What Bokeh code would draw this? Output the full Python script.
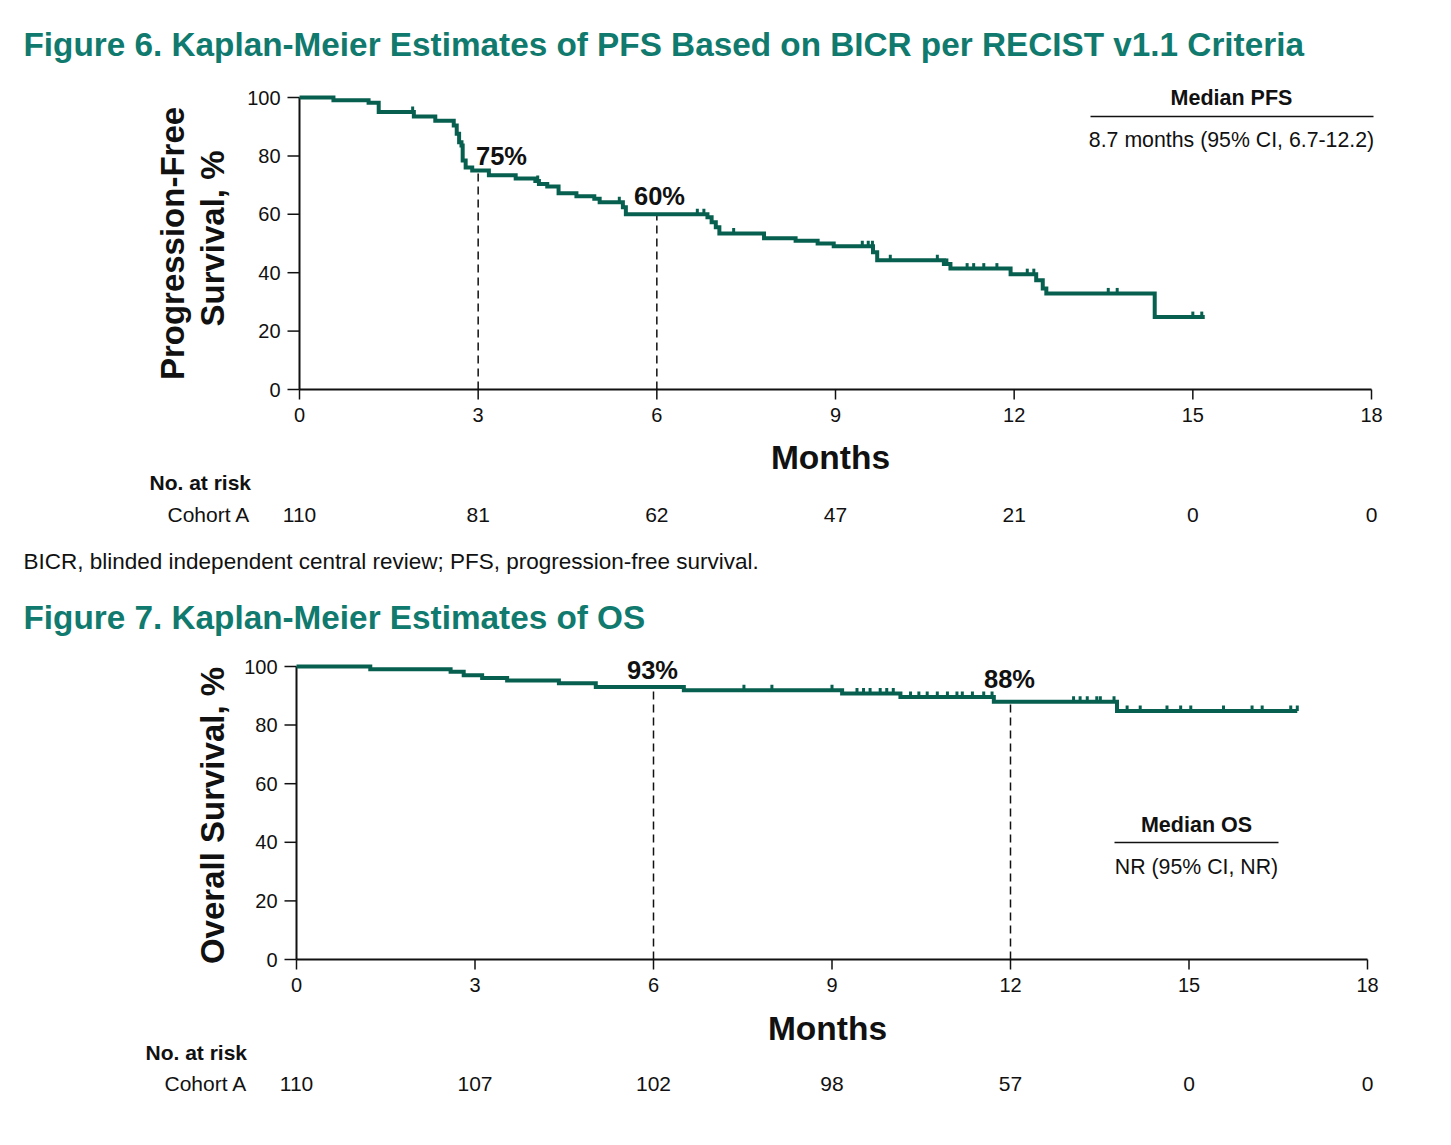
import numpy as np
from bokeh.plotting import figure
from bokeh.models import Range1d
from bokeh.core.properties import value
from bokeh.layouts import column
from bokeh.embed import file_html
from bokeh.resources import INLINE

FONT = "Liberation Sans"
TEAL = "#0F7A6D"
CURVE = "#07604F"
INK = "#111111"

month_ticks = [0, 3, 6, 9, 12, 15, 18]
pct_ticks = [0, 20, 40, 60, 80, 100]

# Progression-free survival (Kaplan-Meier steps, % event-free)
pfs_time = [0, 0.57, 1.16, 1.33, 1.92, 2.28, 2.59, 2.64, 2.68, 2.72, 2.74, 2.79,
            2.90, 3.18, 3.63, 3.96, 4.02, 4.16, 4.35, 4.65, 4.95, 5.04, 5.43, 5.48,
            6.85, 6.92, 6.99, 7.05, 7.80, 8.33, 8.70, 8.97, 9.63, 9.70, 10.82, 10.93,
            11.94, 12.37, 12.48, 12.54, 14.36]
pfs_surv = [100, 99.1, 98.2, 95.0, 93.5, 92.0, 90.4, 87.6, 84.7, 83.6, 78.4, 76.0,
            75.0, 73.4, 72.3, 71.4, 70.4, 69.5, 67.2, 66.2, 65.3, 64.1, 62.4, 60.0,
            59.0, 57.3, 55.6, 53.4, 51.8, 50.9, 50.0, 49.1, 47.0, 44.3, 43.0, 41.4,
            39.5, 37.4, 34.6, 32.9, 24.8]
pfs_end = 15.2
pfs_censor = [1.90, 4.00, 5.37, 6.68, 6.79, 7.29, 9.45, 9.55, 9.62, 9.92, 10.71,
              10.87, 11.21, 11.32, 11.49, 11.71, 12.22, 12.33, 13.58, 13.73, 15.00,
              15.15]
pfs_at_risk = [110, 81, 62, 47, 21, 0, 0]
pfs_landmark_month = [3, 6]
pfs_landmark_pct = [75, 60]

# Overall survival
os_time = [0, 1.24, 2.59, 2.81, 3.12, 3.54, 4.41, 5.03, 6.51, 9.17, 10.15, 11.72, 13.79]
os_surv = [100, 99.1, 98.2, 97.0, 96.1, 95.2, 94.3, 93.0, 91.9, 90.8, 89.6, 88.0, 84.8]
os_end = 16.82
os_censor = [7.52, 7.99, 9.00, 9.42, 9.53, 9.64, 9.81, 9.92, 10.03, 10.32, 10.46,
             10.60, 10.77, 10.94, 11.10, 11.19, 11.36, 11.55, 11.69, 13.06, 13.17,
             13.29, 13.45, 13.51, 13.74, 13.96, 14.18, 14.63, 14.86, 15.03, 15.58,
             16.06, 16.23, 16.71, 16.82]
os_at_risk = [110, 107, 102, 98, 57, 0, 0]
os_landmark_month = [6, 12]
os_landmark_pct = [93, 88]

PAGE_W = 1451


class Panel:
    """A full-bleed figure whose data space is laid out so that month 0 / 0 %
    sit at a chosen pixel origin; margins hold the axes, titles and tables."""

    def __init__(self, height, page_top, x0, x18, y0, y100):
        self.page_top = page_top
        self.ppm = (x18 - x0) / 18.0          # pixels per month
        self.ppu = (y0 - y100) / 100.0        # pixels per percent
        self.x0 = x0
        self.y0 = y0                          # page pixel of 0 %
        yb = page_top + height
        p = figure(width=PAGE_W, height=height, output_backend="svg",
                   toolbar_location=None,
                   x_range=Range1d(-x0 / self.ppm, (PAGE_W - x0) / self.ppm),
                   y_range=Range1d((y0 - yb) / self.ppu, (y0 - page_top) / self.ppu),
                   x_axis_location=None, y_axis_location=None,
                   min_border=0, min_border_left=0, min_border_right=0,
                   min_border_top=0, min_border_bottom=0)
        p.outline_line_color = None
        p.grid.visible = False
        p.background_fill_color = "white"
        p.border_fill_color = "white"
        self.p = p

    def dx(self, px):
        return px / self.ppm

    def dy(self, px):
        return px / self.ppu

    def X(self, px):
        return (px - self.x0) / self.ppm

    def Y(self, py):
        return (self.y0 - py) / self.ppu

    def text(self, xs, ys, texts, size, bold=False, color=INK, align="left",
             angle=0.0):
        self.p.text(x=xs, y=ys, text=texts, text_font=value(FONT),
                    text_font_size=value(f"{size}px"),
                    text_font_style=value("bold" if bold else "normal"),
                    text_color=color, text_align=value(align),
                    text_baseline=value("middle"), angle=angle)

    def axes(self):
        p = self.p
        # axis lines
        p.segment(x0=[0, 0], y0=[0, 0], x1=[month_ticks[-1], 0],
                  y1=[0, pct_ticks[-1]], line_color=INK, line_width=2)
        # month ticks + labels
        mt = np.asarray(month_ticks, dtype=float)
        p.segment(x0=mt, y0=np.zeros_like(mt), x1=mt,
                  y1=np.full_like(mt, -self.dy(10)), line_color=INK, line_width=1.5)
        self.text(list(mt), [-self.dy(25)] * len(mt), [str(m) for m in month_ticks],
                  20, align="center")
        # percent ticks + labels
        yt = np.asarray(pct_ticks, dtype=float)
        p.segment(x0=np.zeros_like(yt), y0=yt, x1=np.full_like(yt, -self.dx(12)),
                  y1=yt, line_color=INK, line_width=1.5)
        self.text([-self.dx(19)] * len(yt), list(yt), [str(v) for v in pct_ticks],
                  20, align="right")

    def km(self, time, surv, end, censor, lm_month, lm_pct):
        p = self.p
        # landmark guides
        p.segment(x0=lm_month, y0=[0] * len(lm_month), x1=lm_month, y1=lm_pct,
                  line_color=INK, line_width=1.5, line_dash="8 5")
        # survival curve
        xs = list(time) + [end]
        ys = list(surv) + [surv[-1]]
        p.step(xs, ys, mode="after", line_color=CURVE, line_width=4,
               line_join="miter")
        # censoring marks
        t = np.asarray(time)
        s = np.asarray(surv)
        c = np.asarray(censor)
        sc = s[np.searchsorted(t, c, side="right") - 1]
        p.segment(x0=c, y0=sc, x1=c, y1=sc + self.dy(5.5), line_color=CURVE,
                  line_width=3)

    def at_risk(self, counts, py_head, px_head, py_row, px_row):
        self.text([self.X(px_head)], [self.Y(py_head)], ["No. at risk"], 21, bold=True)
        self.text([self.X(px_row)], [self.Y(py_row)], ["Cohort A"], 21)
        self.text(month_ticks, [self.Y(py_row)] * len(counts),
                  [str(n) for n in counts], 21, align="center")


# ---------------- Figure 6: PFS ----------------
H1 = 590
a = Panel(H1, 0, 299, 1371, 389, 97)
a.axes()
a.km(pfs_time, pfs_surv, pfs_end, pfs_censor, pfs_landmark_month, pfs_landmark_pct)
a.text([a.X(23)], [a.Y(44)],
       ["Figure 6. Kaplan-Meier Estimates of PFS Based on BICR per RECIST v1.1 Criteria"],
       33.3, bold=True, color=TEAL)
a.text([a.X(172)], [a.Y(243)], ["Progression-Free"], 33, bold=True,
       align="center", angle=np.pi / 2)
a.text([a.X(212)], [a.Y(238)], ["Survival, %"], 33, bold=True,
       align="center", angle=np.pi / 2)
a.text([a.X(830)], [a.Y(457)], ["Months"], 33.5, bold=True, align="center")
a.at_risk(pfs_at_risk, 482, 149, 514, 167)
a.text([a.X(23)], [a.Y(561)],
       ["BICR, blinded independent central review; PFS, progression-free survival."],
       22.5)
a.text([a.X(1231)], [a.Y(97)], ["Median PFS"], 21.5, bold=True, align="center")
a.text([a.X(1231)], [a.Y(139)], ["8.7 months (95% CI, 6.7-12.2)"], 21.3,
       align="center")
a.p.segment(x0=[a.X(1090)], y0=[a.Y(116)], x1=[a.X(1373)], y1=[a.Y(116)],
            line_color=INK, line_width=1.5)
a.text([a.X(501), a.X(659)], [a.Y(155), a.Y(195)],
       [f"{v}%" for v in pfs_landmark_pct], 25.5, bold=True, align="center")

# ---------------- Figure 7: OS ----------------
H2 = 1145 - H1
b = Panel(H2, H1, 296, 1367, 959, 666)
b.axes()
b.km(os_time, os_surv, os_end, os_censor, os_landmark_month, os_landmark_pct)
b.text([b.X(23)], [b.Y(617)], ["Figure 7. Kaplan-Meier Estimates of OS"], 33.3,
       bold=True, color=TEAL)
b.text([b.X(212)], [b.Y(815)], ["Overall Survival, %"], 33, bold=True,
       align="center", angle=np.pi / 2)
b.text([b.X(827)], [b.Y(1028)], ["Months"], 33.5, bold=True, align="center")
b.at_risk(os_at_risk, 1052, 145, 1083, 164)
b.text([b.X(1196)], [b.Y(824)], ["Median OS"], 21.5, bold=True, align="center")
b.text([b.X(1196)], [b.Y(866)], ["NR (95% CI, NR)"], 21.3, align="center")
b.p.segment(x0=[b.X(1114)], y0=[b.Y(842)], x1=[b.X(1278)], y1=[b.Y(842)],
            line_color=INK, line_width=1.5)
b.text([b.X(652), b.X(1009)], [b.Y(669), b.Y(678)],
       [f"{v}%" for v in os_landmark_pct], 25.5, bold=True, align="center")

layout = column(a.p, b.p, spacing=0)
open("out.html", "w").write(file_html(layout, INLINE))
